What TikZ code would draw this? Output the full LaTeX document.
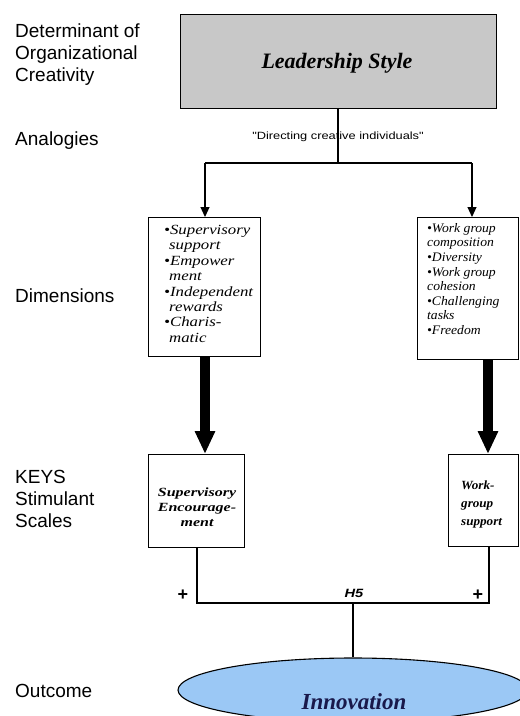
\documentclass[tikz,border=0pt]{standalone}
\usepackage{fontspec}
\setmainfont{Liberation Serif}
\setsansfont{Liberation Sans}
\newfontfamily\serifwide[FakeStretch=1.2]{Liberation Serif}
\newfontfamily\serifwider[FakeStretch=1.28]{Liberation Serif}
\newfontfamily\serifnarrow[FakeStretch=1.05]{Liberation Serif}
\newfontfamily\sanswide[FakeStretch=1.22]{Liberation Sans}
\usetikzlibrary{arrows.meta,shapes.geometric}
\definecolor{boxgray}{RGB}{200,200,200}
\definecolor{ellblue}{RGB}{155,200,245}
\definecolor{navy}{RGB}{25,25,75}
\tikzset{
  conn/.style={line width=1.1pt, draw=black},
  thinarrow/.style={conn, -{Triangle[length=10pt,width=9pt]}},
  fatarrow/.style={line width=10pt, draw=black, -{Triangle[length=23pt,width=19pt]}},
  boxnode/.style={draw=black, line width=1.1pt, fill=white, inner sep=0pt, anchor=north west},
  rowlabel/.style={font=\sffamily\fontsize{19}{22}\selectfont, align=left, anchor=west, inner sep=0pt},
  dimtext/.style={align=left, anchor=north west, inner sep=0pt},
  plussign/.style={font=\sffamily\bfseries\fontsize{18}{20}\selectfont, inner sep=0pt},
}
\begin{document}
\begin{tikzpicture}[x=1pt,y=-1pt]
\fill[white] (0,0) rectangle (520,716);
\useasboundingbox (0,0) rectangle (520,716);

% row labels
\node[rowlabel] (lab1) at (15,55) {Determinant of\\Organizational\\Creativity};
\node[rowlabel] (lab2) at (15,141) {Analogies};
\node[rowlabel] (lab3) at (15,296) {Dimensions};
\node[rowlabel] (lab4) at (15,499) {KEYS\\Stimulant\\Scales};
\node[rowlabel] (lab5) at (15,691) {Outcome};

% top box
\node[boxnode, fill=boxgray, minimum width=316pt, minimum height=94pt] (lead) at (180,14) {};
\node[font=\bfseries\itshape\fontsize{22}{26}\selectfont] (leadtxt) at (337,63) {Leadership Style};

% dimension boxes
\node[boxnode, minimum width=112pt, minimum height=139pt] (dimL) at (148,217) {};
\node[boxnode, minimum width=101pt, minimum height=142pt] (dimR) at (417,217) {};
\node[dimtext, font=\serifwide\itshape\fontsize{14}{15.4}\selectfont] (dimLtxt) at (164,225)
  {•Supervisory\\\hspace*{5pt}support\\•Empower\\\hspace*{5pt}ment\\•Independent\\\hspace*{5pt}rewards\\•Charis-\\\hspace*{5pt}matic};
\node[dimtext, font=\serifnarrow\itshape\fontsize{13}{14.6}\selectfont] (dimRtxt) at (427,223)
  {•Work group\\composition\\•Diversity\\•Work group\\cohesion\\•Challenging\\tasks\\•Freedom};

% KEYS boxes
\node[boxnode, minimum width=96pt, minimum height=93pt] (keyL) at (148,454) {};
\node[boxnode, minimum width=70pt, minimum height=92pt] (keyR) at (448,454) {};
\node[align=center, inner sep=0pt, font=\serifwider\bfseries\itshape\fontsize{12.5}{15}\selectfont] (keyLtxt) at (197,507)
  {Supervisory\\Encourage-\\ment};
\node[align=left, anchor=west, inner sep=0pt, font=\serifnarrow\bfseries\itshape\fontsize{12.5}{18}\selectfont] (keyRtxt) at (461,504)
  {Work-\\group\\support};

% outcome
\node[ellipse, draw=black, line width=1.1pt, fill=ellblue, minimum width=350pt, minimum height=64pt, inner sep=0pt] (innov) at (353,690) {};
\node[font=\bfseries\itshape\fontsize{23}{27}\selectfont, text=navy] (innovtxt) at (354,702) {Innovation};

% analogies text
\node[font=\sanswide\fontsize{10.5}{12}\selectfont, inner sep=0pt] (analog) at (338,137) {"Directing creative individuals"};

% coordinates
\coordinate (split) at (338,163);
\coordinate (splitL) at (205,163);
\coordinate (splitR) at (472,163);
\coordinate (colR) at (488,0);
\coordinate (joinL) at (197,603);
\coordinate (joinR) at (489,603);
\coordinate (joinM) at (353,603);

% connectors top
\draw[conn] (lead.south -| split) -- (split);
\draw[conn] (splitL) -- (splitR);
\draw[thinarrow] (splitL) -- (dimL.north -| splitL);
\draw[thinarrow] (splitR) -- (dimR.north -| splitR);

% thick arrows
\draw[fatarrow] (dimL.south -| splitL) -- (keyL.north -| splitL);
\draw[fatarrow] (dimR.south -| colR) -- (keyR.north -| colR);

% bottom connectors
\draw[conn] (keyL.south -| joinL) -- (joinL) -- (joinR) -- (keyR.south -| joinR);
\draw[conn] (joinM) -- (innov.north);

% labels
\node[plussign] (plusL) at (183,595) {+};
\node[plussign] (plusR) at (478,595) {+};
\node[font=\sanswide\bfseries\itshape\fontsize{12}{14}\selectfont, inner sep=0pt] (h5) at (354,593) {H5};
\end{tikzpicture}
\end{document}
